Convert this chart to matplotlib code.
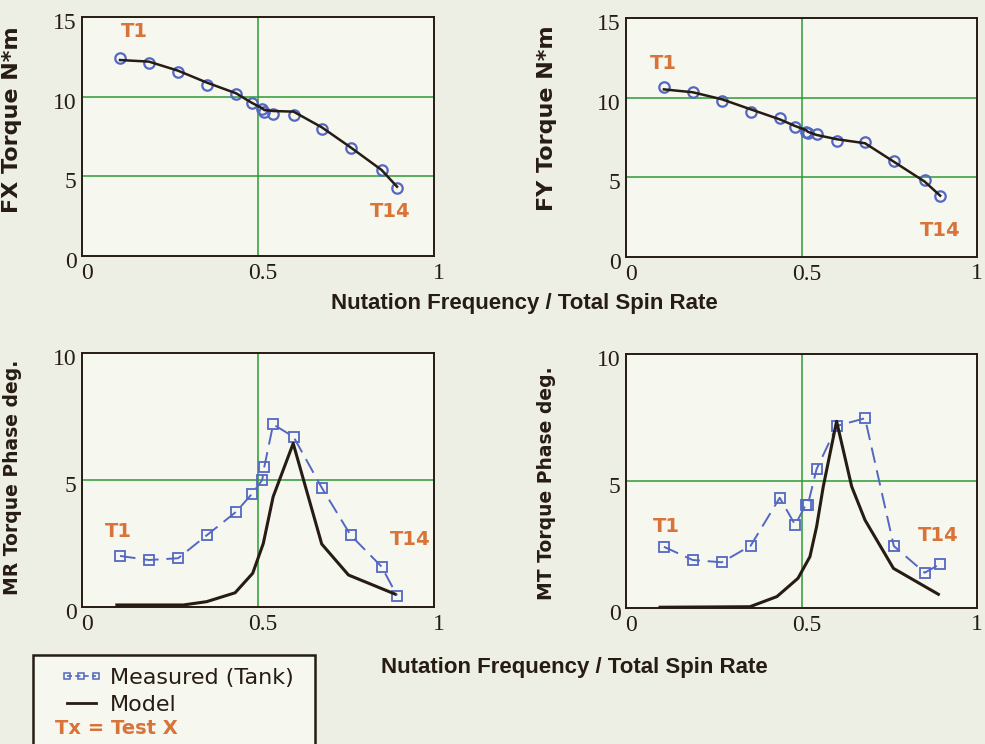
import matplotlib
matplotlib.use("Agg")
import matplotlib.pyplot as plt
import matplotlib.transforms as mtransforms
from matplotlib.lines import Line2D

# test points T1..T14 (nutation frequency / total spin rate)
x_test = [0.108, 0.19, 0.273, 0.355, 0.438, 0.482, 0.512, 0.518, 0.543, 0.601, 0.681, 0.763, 0.851, 0.895]

# FX torque N*m
fx_meas = [12.41, 12.13, 11.57, 10.73, 10.17, 9.62, 9.20, 9.05, 8.91, 8.85, 7.95, 6.76, 5.40, 4.25]
fx_model = [12.30, 12.20, 11.63, 10.88, 10.21, 9.62, 9.27, 9.16, 9.10, 9.06, 8.08, 6.82, 5.40, 4.35]

# FY torque N*m
fy_meas = [10.65, 10.34, 9.81, 9.08, 8.70, 8.18, 7.86, 7.80, 7.72, 7.30, 7.20, 6.04, 4.83, 3.85]
fy_model = [10.52, 10.34, 9.90, 9.27, 8.64, 8.22, 7.97, 7.86, 7.66, 7.39, 7.14, 5.98, 4.73, 3.85]

# MR torque phase deg.
mr_meas = [2.01, 1.85, 1.92, 2.83, 3.75, 4.44, 5.00, 5.52, 7.19, 6.70, 4.70, 2.83, 1.59, 0.45]
mr_model_x = [0.099, 0.288, 0.354, 0.435, 0.485, 0.515, 0.543, 0.60, 0.681, 0.757, 0.889]
mr_model = [0.08, 0.08, 0.21, 0.56, 1.33, 2.50, 4.34, 6.44, 2.48, 1.26, 0.51]

# MT torque phase deg.
mt_meas = [2.41, 1.89, 1.80, 2.45, 4.34, 3.27, 4.06, 4.06, 5.47, 7.17, 7.47, 2.44, 1.39, 1.73]
mt_model_x = [0.097, 0.353, 0.43, 0.49, 0.524, 0.543, 0.562, 0.60, 0.643, 0.681, 0.762, 0.89]
mt_model = [0.03, 0.05, 0.45, 1.17, 2.02, 3.2, 4.78, 7.35, 4.78, 3.46, 1.56, 0.54]

BG = "#eeefe4"
AX_BG = "#f6f7ee"
BLUE = "#5467c2"
DARK = "#261c14"
GREEN = "#2c9a34"
ORANGE = "#d8733a"

W, H = 985, 744
fig = plt.figure(figsize=(W / 100, H / 100), dpi=100, facecolor=BG)


def box(l, t, r, b):
    return [l / W, 1 - b / H, (r - l) / W, (b - t) / H]


def style(ax, ymax, ystep, ylabel, lab_xy, lab_size, right_col=False):
    ax.set_facecolor(AX_BG)
    ax.set_xlim(0, 1)
    ax.set_ylim(0, ymax)
    ax.set_xticks([0, 0.5, 1])
    ax.set_xticklabels(["0", "0.5", "1"])
    ax.set_yticks(list(range(0, ymax + 1, ystep)))
    for s in ax.spines.values():
        s.set_color(DARK)
        s.set_linewidth(1.4)
    ax.tick_params(length=0, labelsize=17, colors=DARK, pad=4)
    for lab in ax.get_xticklabels() + ax.get_yticklabels():
        lab.set_family("Liberation Serif")
    off = mtransforms.ScaledTranslation(0.05, -0.01, fig.dpi_scale_trans)
    xlabs = ax.get_xticklabels()
    # the "1" of the right-hand panels sits at the page edge, keep it inside
    if right_col:
        xlabs = xlabs[:-1]
    for lab in xlabs:
        lab.set_transform(lab.get_transform() + off)
    off_y = mtransforms.ScaledTranslation(0, -0.04, fig.dpi_scale_trans)
    for lab in ax.get_yticklabels():
        lab.set_transform(lab.get_transform() + off_y)
    ax.axvline(0.5, color=GREEN, lw=1.1, zorder=1)
    for yv in range(ystep, ymax, ystep):
        ax.axhline(yv, color=GREEN, lw=1.1, zorder=1)
    ax.set_ylabel(ylabel, fontsize=lab_size, fontweight="bold", color=DARK, family="DejaVu Sans")
    ax.yaxis.set_label_coords(*lab_xy)


def tlabels(ax, p1, p14):
    ax.text(p1[0], p1[1], "T1", color=ORANGE, fontsize=14, fontweight="bold", ha="center", va="center")
    ax.text(p14[0], p14[1], "T14", color=ORANGE, fontsize=14, fontweight="bold", ha="center", va="center")


# top left
ax1 = fig.add_axes(box(82, 17, 434, 256))
style(ax1, 15, 5, "FX Torque N*m", (-0.17, 0.57), 16)
ax1.plot(x_test, fx_meas, ls="none", marker="o", ms=7.5, mfc="none", mec=BLUE, mew=1.6, zorder=3)
ax1.plot(x_test, fx_model, color=DARK, lw=1.8, zorder=4)
tlabels(ax1, (0.15, 14.08), (0.875, 2.78))

# top right
ax2 = fig.add_axes(box(626, 18, 977, 257))
style(ax2, 15, 5, "FY Torque N*m", (-0.197, 0.58), 16, right_col=True)
ax2.plot(x_test, fy_meas, ls="none", marker="o", ms=7.5, mfc="none", mec=BLUE, mew=1.6, zorder=3)
ax2.plot(x_test, fy_model, color=DARK, lw=1.8, zorder=4)
tlabels(ax2, (0.106, 12.16), (0.895, 1.69))

# bottom left
ax3 = fig.add_axes(box(82, 353, 434, 607))
style(ax3, 10, 5, "MR Torque Phase deg.", (-0.17, 0.51), 13.5)
ax3.plot(x_test, mr_meas, color=BLUE, lw=1.4, ls=(0, (8, 4)), marker="s", ms=7,
         mfc="none", mec=BLUE, mew=1.3, zorder=3)
ax3.plot(mr_model_x, mr_model, color=DARK, lw=2.2, zorder=4)
tlabels(ax3, (0.103, 2.96), (0.932, 2.64))

# bottom right
ax4 = fig.add_axes(box(626, 354, 977, 608))
style(ax4, 10, 5, "MT Torque Phase deg.", (-0.2, 0.49), 13.5, right_col=True)
ax4.plot(x_test, mt_meas, color=BLUE, lw=1.4, ls=(0, (8, 4)), marker="s", ms=7,
         mfc="none", mec=BLUE, mew=1.3, zorder=3)
ax4.plot(mt_model_x, mt_model, color=DARK, lw=2.2, zorder=4)
tlabels(ax4, (0.116, 3.2), (0.89, 2.87))

# shared x labels
fig.text(524 / W, 1 - 303 / H, "Nutation Frequency / Total Spin Rate", ha="center", va="center",
         fontsize=16, fontweight="bold", color=DARK, family="Liberation Sans")
fig.text(574 / W, 1 - 668 / H, "Nutation Frequency / Total Spin Rate", ha="center", va="center",
         fontsize=16, fontweight="bold", color=DARK, family="Liberation Sans")

# legend box
rect = plt.Rectangle((33 / W, -0.02), (315 - 33) / W, (744 - 655) / H + 0.02,
                     transform=fig.transFigure, fill=True, fc=AX_BG, ec=DARK, lw=1.8)
fig.patches.append(rect)
handles = [
    Line2D([], [], color=BLUE, lw=1.2, ls=(0, (3, 2)), marker="s", ms=5, mfc="none", mec=BLUE, mew=1.1),
    Line2D([], [], color=DARK, lw=2.0),
]
leg = fig.legend(handles, ["Measured (Tank)", "Model"], loc="upper left",
                 bbox_to_anchor=(60 / W, 1 - 668 / H), frameon=False, numpoints=3,
                 handlelength=1.9, handletextpad=0.35, labelspacing=0.3, borderpad=0,
                 borderaxespad=0, prop={"family": "DejaVu Sans", "size": 16})
for t in leg.get_texts():
    t.set_color(DARK)
fig.text(55 / W, 1 - 729 / H, "Tx = Test X", color=ORANGE, fontsize=14, fontweight="bold",
         family="DejaVu Sans", va="center")

fig.savefig("out.png", dpi=100, facecolor=BG)
